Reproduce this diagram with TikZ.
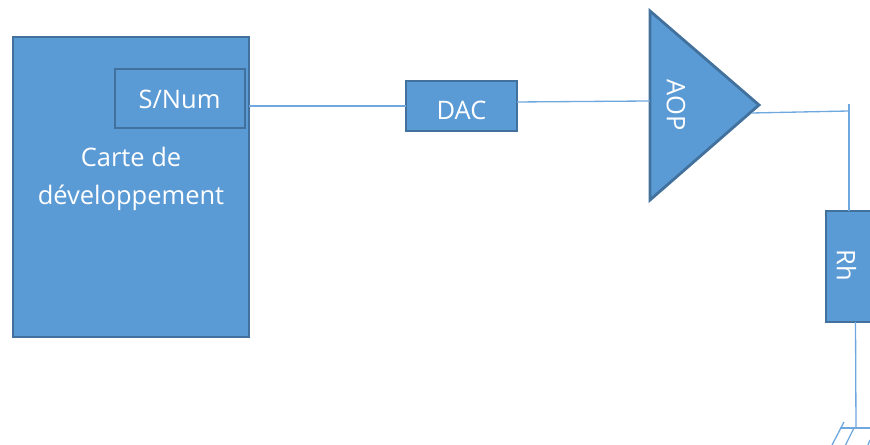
\documentclass[tikz,border=0pt]{standalone}
\usepackage{fontspec}
\setmainfont{Open Sans}
\usetikzlibrary{calc}
\definecolor{block}{RGB}{91,155,213}
\definecolor{edge}{RGB}{65,113,156}
\definecolor{line}{RGB}{110,168,222}
\tikzset{
    boxnode/.style={draw=edge, fill=block, line width=1.6pt, outer sep=0pt, inner sep=0pt},
    textnode/.style={text=white, font=\fontsize{14.5}{21.5}\selectfont, align=center},
    wire/.style={draw=line, line width=0.75pt},
}

\begin{document}
\begin{tikzpicture}
    %% Background
    \useasboundingbox (0,0) rectangle (17.4,8.9);
    \clip (0,0) rectangle (17.4,8.9);
    %% Blocks
    \node[boxnode, minimum width=4.72cm, minimum height=6cm] (carte) at (2.62,5.16) {};
    \node[boxnode, minimum width=2.6cm, minimum height=1.18cm] (snum) at (3.6,6.93) {};
    \node[textnode] (snumtext) at (3.59,6.91) {S/Num};
    \node[textnode] (cartetext) at (2.62,5.32) {Carte de\\développement};
    \node[boxnode, minimum width=2.22cm, minimum height=1cm] (dac) at (9.23,6.78) {};
    \node[textnode] (dactext) at (9.23,6.69) {DAC};
    \node[boxnode, minimum width=1.18cm, minimum height=2.22cm] (rh) at (17.11,3.57) {};
    \node[textnode, rotate=-90] (rhtext) at (16.93,3.6) {Rh};
    %% Amplifier
    \draw[draw=edge, fill=block, line width=1.6pt, line join=miter] (13,8.68) to (15.18,6.8) to (13,4.9) -- cycle;
    \node[textnode, rotate=-90] (aop) at (13.52,6.8) {AOP};
    %% Ports
    \coordinate (dacout) at (10.34,6.86);
    \coordinate (aopin) at (13,6.88);
    \coordinate (aopout) at (15.04,6.64);
    \coordinate (corner) at (16.98,6.68);
    \coordinate (railtop) at (16.98,6.82);
    \coordinate (rhin) at (16.98,4.68);
    \coordinate (gnd) at (17.12,0.34);
    %% Wires
    \draw[wire] (carte.east |- dac.west) to (dac.west);
    \draw[wire] (dacout) to (aopin);
    \draw[wire] (aopout) to (corner);
    \draw[wire] (railtop) to (rhin);
    \draw[wire] (rh.south) to (gnd);
    %% Ground
    \draw[wire] (16.8,0.34) to (gnd) to (17.4,0.34);
    \draw[wire] (16.88,0.46) to (16.64,0);
    \draw[wire] (17.08,0.34) to (16.91,0);
    \draw[wire] (17.4,0.1) to (17.36,0);
\end{tikzpicture}
\end{document}
